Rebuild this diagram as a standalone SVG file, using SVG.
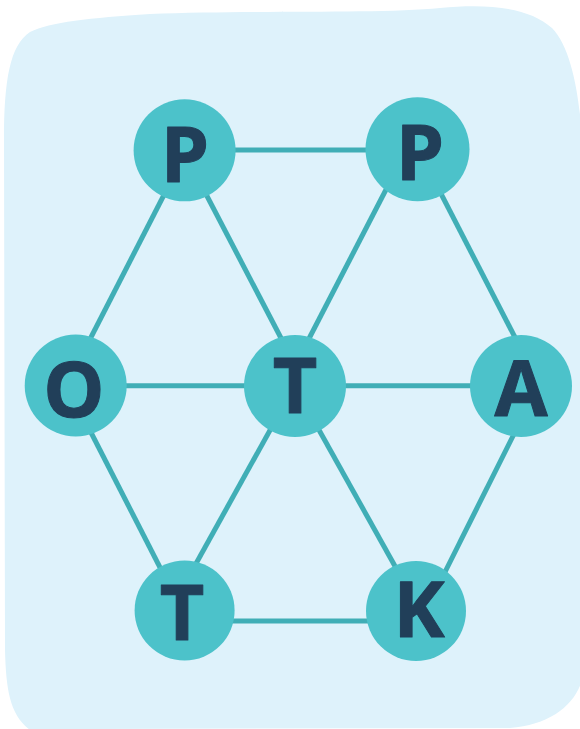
<svg xmlns="http://www.w3.org/2000/svg" width="580" height="729" viewBox="0 0 580 729">
<style>
.edge{stroke:#40AEB6;stroke-width:5;fill:none}
.node circle{fill:#4CC2CA}
.node text{font-family:"Open Sans","DejaVu Sans",sans-serif;font-weight:700;font-size:77px;fill:#213F59;stroke:#213F59;stroke-width:1;stroke-linejoin:round;text-anchor:middle}
</style>
<path id="background" fill="#DEF2FB" d="M30,32 C50,22 90,18 150,14 C250,10 380,14 440,8 C490,3 530,8 552,28 C572,48 580,100 582,140 L582,680 C575,705 550,725 510,728 L90,729 L30,730 C10,715 6,690 5,650 L4,140 C4,80 10,45 30,32 Z"/>
<g id="connectors">
<line class="edge" x1="185" y1="150" x2="417" y2="150"/>
<line class="edge" x1="76" y1="385.8" x2="521" y2="385.8"/>
<line class="edge" x1="185" y1="621" x2="416" y2="621"/>
<line class="edge" x1="187" y1="150" x2="66" y2="386"/>
<line class="edge" x1="183" y1="150" x2="306" y2="386"/>
<line class="edge" x1="407" y1="149" x2="284.5" y2="386"/>
<line class="edge" x1="418" y1="149" x2="540" y2="386"/>
<line class="edge" x1="67" y1="385.5" x2="182" y2="610.5"/>
<line class="edge" x1="294.5" y1="386" x2="170" y2="610.5"/>
<line class="edge" x1="294.5" y1="386" x2="420" y2="611"/>
<line class="edge" x1="538" y1="386" x2="425.5" y2="611"/>
</g>
<g id="node-p1" class="node"><circle cx="184.6" cy="150.3" r="51"/><text x="185" y="182">P</text></g>
<g id="node-p2" class="node"><circle cx="417.5" cy="149.2" r="52"/><text x="420" y="180">P</text></g>
<g id="node-o" class="node"><circle cx="75.7" cy="385.5" r="51"/><text x="74" y="417">O</text></g>
<g id="node-t1" class="node"><circle cx="295" cy="386" r="51"/><text x="295" y="412.7">T</text></g>
<g id="node-a" class="node"><circle cx="521" cy="386" r="51"/><text x="521" y="416">A</text></g>
<g id="node-t2" class="node"><circle cx="184.6" cy="610.5" r="50"/><text x="182" y="640">T</text></g>
<g id="node-k" class="node"><circle cx="416" cy="611" r="50"/><text x="419" y="636.7">K</text></g>
</svg>
